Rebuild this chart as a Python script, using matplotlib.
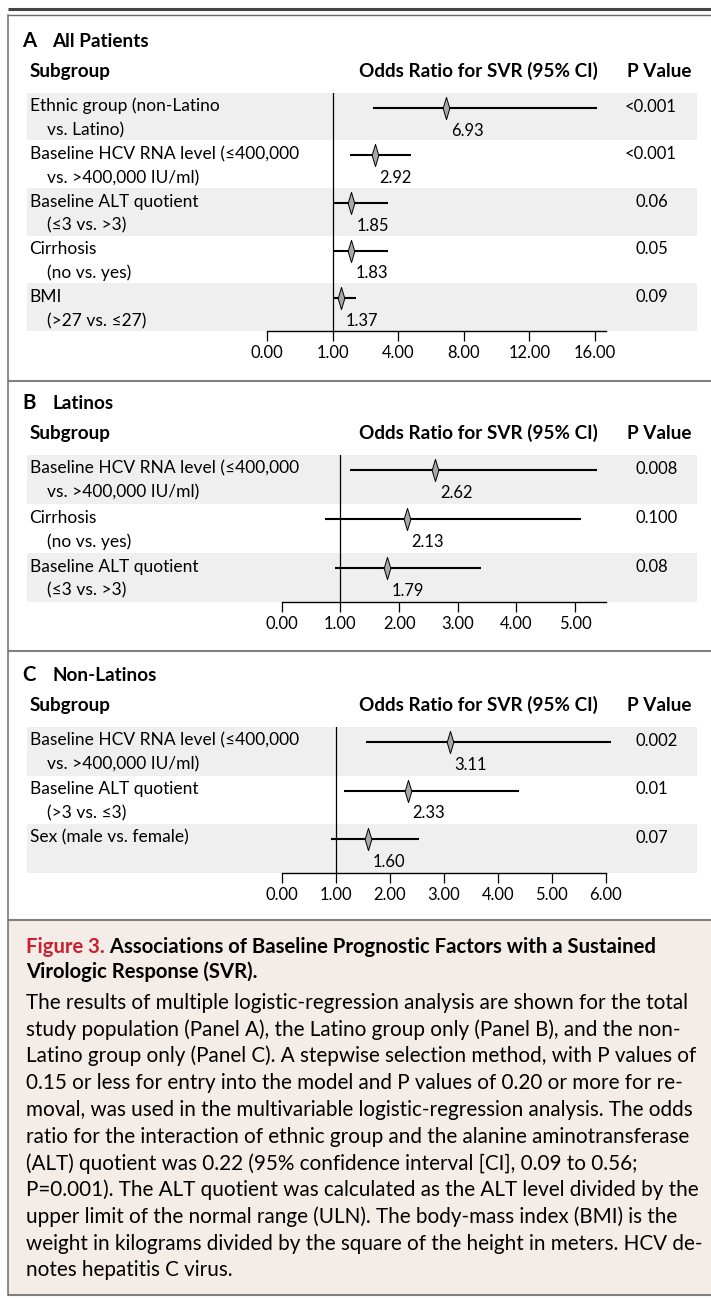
import numpy as np
import matplotlib
matplotlib.use("Agg")
import matplotlib.pyplot as plt
from matplotlib import transforms
from matplotlib.patches import Rectangle
from matplotlib.lines import Line2D
from matplotlib.path import Path

# ------------------------------------------------------------------ data
a_labels = [("Ethnic group (non-Latino", "vs. Latino)"),
            ("Baseline HCV RNA level (≤400,000", "vs. >400,000 IU/ml)"),
            ("Baseline ALT quotient", "(≤3 vs. >3)"),
            ("Cirrhosis", "(no vs. yes)"),
            ("BMI", "(>27 vs. ≤27)")]
a_or = [6.93, 2.92, 1.85, 1.83, 1.37]
a_lo = [2.85, 1.79, 1.00, 1.00, 1.00]
a_hi = [16.1, 4.80, 3.53, 3.53, 2.06]
a_p = ["<0.001", "<0.001", "0.06", "0.05", "0.09"]
a_ticks = [0, 1, 4, 8, 12, 16]
a_ticklabels = ["0.00", "1.00", "4.00", "8.00", "12.00", "16.00"]

b_labels = [("Baseline HCV RNA level (≤400,000", "vs. >400,000 IU/ml)"),
            ("Cirrhosis", "(no vs. yes)"),
            ("Baseline ALT quotient", "(≤3 vs. >3)")]
b_or = [2.62, 2.13, 1.79]
b_lo = [1.16, 0.74, 0.91]
b_hi = [5.37, 5.10, 3.40]
b_p = ["0.008", "0.100", "0.08"]
b_ticks = [0, 1, 2, 3, 4, 5]
b_ticklabels = ["0.00", "1.00", "2.00", "3.00", "4.00", "5.00"]

c_labels = [("Baseline HCV RNA level (≤400,000", "vs. >400,000 IU/ml)"),
            ("Baseline ALT quotient", "(>3 vs. ≤3)"),
            ("Sex (male vs. female)", "")]
c_or = [3.11, 2.33, 1.60]
c_lo = [1.57, 1.16, 0.91]
c_hi = [6.09, 4.40, 2.54]
c_p = ["0.002", "0.01", "0.07"]
c_ticks = [0, 1, 2, 3, 4, 5, 6]
c_ticklabels = ["0.00", "1.00", "2.00", "3.00", "4.00", "5.00", "6.00"]

caption_fig = "Figure 3."
caption_title = ["Associations of Baseline Prognostic Factors with a Sustained",
                 "Virologic Response (SVR)."]
caption_lines = [
    "The results of multiple logistic-regression analysis are shown for the total",
    "study population (Panel A), the Latino group only (Panel B), and the non-",
    "Latino group only (Panel C). A stepwise selection method, with P values of",
    "0.15 or less for entry into the model and P values of 0.20 or more for re-",
    "moval, was used in the multivariable logistic-regression analysis. The odds",
    "ratio for the interaction of ethnic group and the alanine aminotransferase",
    "(ALT) quotient was 0.22 (95% confidence interval [CI], 0.09 to 0.56;",
    "P=0.001). The ALT quotient was calculated as the ALT level divided by the",
    "upper limit of the normal range (ULN). The body-mass index (BMI) is the",
    "weight in kilograms divided by the square of the height in meters. HCV de-",
    "notes hepatitis C virus.",
]

# ------------------------------------------------------------------ style
W, H, DPI = 711, 1298, 100
FONT = ["Lato", "DejaVu Sans"]
BAND = "#efefef"
CAPBG = "#f3ece7"
RED = "#cc2030"
plt.rcParams["font.family"] = FONT

fig = plt.figure(figsize=(W / DPI, H / DPI), dpi=DPI)
fig.patch.set_facecolor("white")
renderer = fig.canvas.get_renderer()


def fx(x):
    return x / W


def fy(y):
    return 1 - y / H


def text_width(s, size, weight="normal"):
    t = fig.text(0, 0, s, fontsize=size, fontweight=weight, family=FONT)
    w = t.get_window_extent(renderer=renderer).width
    t.remove()
    return w


def fit_size(s, target, weight="normal"):
    return 10 * target / text_width(s, 10, weight)


BODY = fit_size("Baseline HCV RNA level (≤400,000", 268)
NUM = BODY * 0.95
BOLD = fit_size("Odds Ratio for SVR (95% CI)", 238, "bold")
CAP = fit_size(caption_lines[0], 660)
CAPT = fit_size(caption_fig + " " + caption_title[0], 630, "bold")

DIAMOND = Path([(0, 1), (0.3, 0), (0, -1), (-0.3, 0), (0, 1)],
               [Path.MOVETO, Path.LINETO, Path.LINETO, Path.LINETO, Path.CLOSEPOLY])


def a_fwd(x):
    x = np.asarray(x, dtype=float)
    idx = np.interp(x, a_ticks, np.arange(len(a_ticks)))
    idx = np.where(x > a_ticks[-1], len(a_ticks) - 1 + (x - a_ticks[-1]) / 4.0, idx)
    idx = np.where(x < 0, x, idx)
    return idx


def a_inv(i):
    i = np.asarray(i, dtype=float)
    v = np.interp(i, np.arange(len(a_ticks)), a_ticks)
    v = np.where(i > len(a_ticks) - 1, a_ticks[-1] + (i - (len(a_ticks) - 1)) * 4.0, v)
    v = np.where(i < 0, i, v)
    return v


def panel(letter, title, top, bottom, left, right, xlim, labels, ors, los, his,
          ps, ticks, ticklabels, scale=None):
    ax = fig.add_axes([fx(left), fy(bottom), fx(right - left), (bottom - top) / H])
    n = len(labels)
    pitch = (bottom - top) / n
    if scale is not None:
        ax.set_xscale("function", functions=scale)
    ax.set_xlim(*xlim)
    ax.set_ylim(n, 0)
    ax.patch.set_visible(False)
    for s in ["top", "left", "right"]:
        ax.spines[s].set_visible(False)
    ax.spines["bottom"].set_linewidth(1.0)
    ax.set_yticks([])
    ax.set_xticks(ticks)
    ax.set_xticklabels(ticklabels)
    ax.tick_params(axis="x", direction="out", length=7.2, width=0.9, pad=3.0,
                   labelsize=NUM)
    ax.axvline(1, color="black", lw=0.9, zorder=2)

    blend = transforms.blended_transform_factory(fig.transFigure, ax.transData)
    b1 = 18.8 / pitch
    b2 = 42.8 / pitch
    lmid = 15.0 / pitch
    for i in range(n):
        if i % 2 == 0:
            ax.add_patch(Rectangle((fx(27), i), fx(697 - 27), 1, transform=blend,
                                   facecolor=BAND, edgecolor="none", zorder=0,
                                   clip_on=False))
        l1, l2 = labels[i]
        ax.text(fx(29.5), i + b1, l1, transform=blend, fontsize=BODY,
                va="baseline", ha="left")
        if l2:
            ax.text(fx(47.5), i + b2, l2, transform=blend, fontsize=BODY,
                    va="baseline", ha="left")
        px = 625 if ps[i].startswith("<") else 636
        ax.text(fx(px), i + b1, ps[i], transform=blend, fontsize=NUM,
                va="baseline", ha="left")

    ys = np.arange(n) + lmid
    ax.hlines(ys, los, his, color="black", lw=1.5, zorder=3, clip_on=False)
    ax.plot(ors, ys, ls="none", marker=DIAMOND, ms=16, mfc="#a8a8a8",
            mec="black", mew=0.7, zorder=4, clip_on=False)
    for v, y in zip(ors, ys):
        ax.annotate(f"{v:.2f}", xy=(v, y + (b2 - lmid)), xytext=(3.5, 0),
                    textcoords="offset points", ha="left", va="baseline",
                    fontsize=NUM)

    tb = top - 46
    hb = top - 16
    fig.text(fx(22), fy(tb), letter, fontsize=BOLD * 1.08, fontweight="bold",
             va="baseline")
    fig.text(fx(52), fy(tb), title, fontsize=BOLD, fontweight="bold", va="baseline")
    fig.text(fx(29.5), fy(hb), "Subgroup", fontsize=BOLD, fontweight="bold",
             va="baseline")
    fig.text(fx(598), fy(hb), "Odds Ratio for SVR (95% CI)", fontsize=BOLD,
             fontweight="bold", va="baseline", ha="right")
    fig.text(fx(627), fy(hb), "P Value", fontsize=BOLD, fontweight="bold",
             va="baseline", ha="left")
    return ax


axA = panel("A", "All Patients", 92.7, 331, 267.3, 606, (0, 16.68),
            a_labels, a_or, a_lo, a_hi, a_p, a_ticks, a_ticklabels,
            scale=(a_fwd, a_inv))
axB = panel("B", "Latinos", 455, 601.7, 281.7, 606, (0, 5.525),
            b_labels, b_or, b_lo, b_hi, b_p, b_ticks, b_ticklabels)
axC = panel("C", "Non-Latinos", 727, 872.7, 281.7, 605.7, (0, 6.0),
            c_labels, c_or, c_lo, c_hi, c_p, c_ticks, c_ticklabels)

# ------------------------------------------------------------------ frame
fig.add_artist(Rectangle((fx(8), fy(1295)), fx(711 - 8), (1295 - 920) / H,
                         transform=fig.transFigure, facecolor=CAPBG,
                         edgecolor="none", zorder=0))


def hline(y, x0, x1, lw, color):
    fig.add_artist(Line2D([fx(x0), fx(x1)], [fy(y), fy(y)], transform=fig.transFigure,
                          lw=lw, color=color, solid_capstyle="butt"))


hline(8.7, 8, 711, 2.2, "#444444")
hline(15, 8, 711, 1.0, "#6a6a6a")
for yy in (381, 651, 920, 1295):
    hline(yy, 8, 711, 1.5, "#808080")
fig.add_artist(Line2D([fx(8), fx(8)], [fy(15), fy(1295)], transform=fig.transFigure,
                      lw=1.1, color="#6a6a6a"))

# ------------------------------------------------------------------ caption
t1 = fig.text(fx(26), fy(952.7), caption_fig, fontsize=CAPT, fontweight="bold",
              color=RED, va="baseline")
w1 = t1.get_window_extent(renderer=renderer).width
fig.text(fx(26 + w1), fy(952.7), " " + caption_title[0], fontsize=CAPT,
         fontweight="bold", color="black", va="baseline")
fig.text(fx(26), fy(977.7), caption_title[1], fontsize=CAPT, fontweight="bold",
         color="black", va="baseline")
for k, line in enumerate(caption_lines):
    fig.text(fx(26), fy(1009 + 26.75 * k), line, fontsize=CAP, va="baseline")

fig.savefig("out.png", dpi=DPI)
